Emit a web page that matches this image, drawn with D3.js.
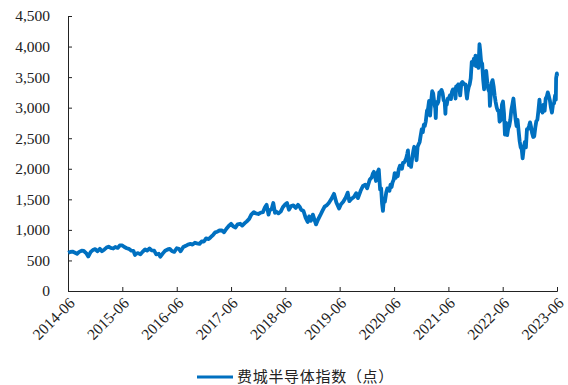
<!DOCTYPE html>
<html>
<head>
<meta charset="utf-8">
<script src="https://cdn.jsdelivr.net/npm/d3@7/dist/d3.min.js"></script>
<style>
  html, body { margin: 0; padding: 0; background: #fff; }
  svg { display: block; }
  .tick text { font-family: "Liberation Serif", "Times New Roman", serif; font-size: 15.5px; fill: #222; }
</style>
</head>
<body>
<svg id="chart" width="568" height="385"></svg>
<script>
// Philadelphia Semiconductor Index, closing level (points)
const dates = [
  "2014-06-02","2014-06-16","2014-07-01","2014-07-15","2014-08-01","2014-08-15","2014-09-01","2014-09-15","2014-10-01","2014-10-15","2014-11-01","2014-11-15","2014-12-01","2014-12-15",
  "2015-01-01","2015-01-15","2015-02-01","2015-02-15","2015-03-01","2015-03-15","2015-04-01","2015-04-15","2015-05-01","2015-05-15","2015-06-01","2015-06-15","2015-07-01","2015-07-15","2015-08-01","2015-08-15","2015-08-25","2015-09-01","2015-09-15","2015-10-01","2015-10-15","2015-11-01","2015-11-15","2015-12-01","2015-12-15",
  "2016-01-01","2016-01-15","2016-02-01","2016-02-11","2016-03-01","2016-03-15","2016-04-01","2016-04-15","2016-05-01","2016-05-15","2016-06-01","2016-06-15","2016-06-27","2016-07-15","2016-08-01","2016-08-15","2016-09-01","2016-09-15","2016-10-01","2016-10-15","2016-11-01","2016-11-15","2016-12-01","2016-12-15",
  "2017-01-01","2017-01-15","2017-02-01","2017-02-15","2017-03-01","2017-03-15","2017-04-01","2017-04-15","2017-05-01","2017-05-15","2017-06-01","2017-06-15","2017-07-01","2017-07-15","2017-08-01","2017-08-15","2017-09-01","2017-09-15","2017-10-01","2017-10-15","2017-11-01","2017-11-15","2017-12-01","2017-12-15",
  "2018-01-01","2018-01-15","2018-01-26","2018-02-08","2018-02-15","2018-03-01","2018-03-12","2018-03-23","2018-04-01","2018-04-15","2018-05-01","2018-05-15","2018-06-01","2018-06-12","2018-06-25","2018-07-10","2018-07-25","2018-08-10","2018-08-25","2018-09-05","2018-09-15","2018-10-01","2018-10-15","2018-10-29","2018-11-08","2018-11-20","2018-12-03","2018-12-24",
  "2019-01-07","2019-01-22","2019-02-05","2019-02-20","2019-03-05","2019-03-20","2019-04-05","2019-04-24","2019-05-10","2019-05-28","2019-06-10","2019-06-25","2019-07-10","2019-07-25","2019-08-05","2019-08-20","2019-09-05","2019-09-20","2019-10-02","2019-10-20","2019-11-05","2019-11-20","2019-12-03","2019-12-20",
  "2020-01-03","2020-01-10","2020-01-17","2020-01-24","2020-01-31","2020-02-07","2020-02-14","2020-02-19","2020-02-28","2020-03-06","2020-03-12","2020-03-18","2020-03-24","2020-03-31","2020-04-09","2020-04-17","2020-04-24","2020-05-01","2020-05-08","2020-05-15","2020-05-22","2020-05-29",
  "2020-06-05","2020-06-12","2020-06-19","2020-06-26","2020-07-02","2020-07-10","2020-07-17","2020-07-24","2020-07-31","2020-08-07","2020-08-14","2020-08-21","2020-08-28","2020-09-02","2020-09-08","2020-09-18","2020-09-23","2020-10-02","2020-10-09","2020-10-14","2020-10-23","2020-10-30","2020-11-06","2020-11-13","2020-11-20","2020-11-27","2020-12-04","2020-12-11","2020-12-18","2020-12-24","2020-12-31",
  "2021-01-08","2021-01-15","2021-01-22","2021-01-29","2021-02-05","2021-02-12","2021-02-19","2021-02-26","2021-03-05","2021-03-08","2021-03-12","2021-03-19","2021-03-26","2021-04-01","2021-04-09","2021-04-16","2021-04-23","2021-04-30","2021-05-07","2021-05-12","2021-05-14","2021-05-21","2021-05-28","2021-06-04","2021-06-11","2021-06-18","2021-06-25","2021-07-02","2021-07-09",
  "2021-07-16","2021-07-19","2021-07-23","2021-07-30","2021-08-06","2021-08-13","2021-08-19","2021-08-27","2021-09-03","2021-09-10","2021-09-17","2021-09-24","2021-09-30","2021-10-04","2021-10-08","2021-10-15","2021-10-22","2021-10-29","2021-11-05","2021-11-12","2021-11-19","2021-11-26","2021-11-30","2021-12-03","2021-12-10","2021-12-17","2021-12-20","2021-12-27","2021-12-31",
  "2022-01-07","2022-01-14","2022-01-21","2022-01-27","2022-02-04","2022-02-10","2022-02-18","2022-02-24","2022-03-04","2022-03-07","2022-03-11","2022-03-18","2022-03-25","2022-04-01","2022-04-08","2022-04-14","2022-04-22","2022-04-29","2022-05-06","2022-05-11","2022-05-20","2022-05-27","2022-06-03","2022-06-10","2022-06-16","2022-06-24",
  "2022-07-01","2022-07-08","2022-07-15","2022-07-22","2022-07-29","2022-08-05","2022-08-12","2022-08-19","2022-08-26","2022-09-02","2022-09-09","2022-09-16","2022-09-23","2022-09-30","2022-10-07","2022-10-13","2022-10-21","2022-10-28","2022-11-04","2022-11-11","2022-11-18","2022-11-25","2022-12-02","2022-12-09","2022-12-16","2022-12-23","2022-12-30",
  "2023-01-06","2023-01-13","2023-01-20","2023-01-27","2023-02-03","2023-02-10","2023-02-17","2023-02-24","2023-03-03","2023-03-10","2023-03-17","2023-03-24","2023-03-31","2023-04-06","2023-04-14","2023-04-21","2023-04-28","2023-05-05","2023-05-12","2023-05-19","2023-05-24","2023-05-26","2023-05-31","2023-06-02"
];
const values = [
  625,640,645,630,610,640,660,655,620,565,640,670,685,650,
  690,650,680,710,725,705,695,720,705,745,745,720,700,690,660,655,590,610,620,600,640,680,660,695,665,
  660,600,610,560,620,660,680,690,650,640,700,690,650,720,740,760,770,760,790,780,770,810,810,860,
  850,880,920,960,970,990,990,960,1020,1060,1100,1060,1040,1090,1100,1070,1110,1140,1180,1250,1290,1270,1260,1280,
  1290,1370,1410,1250,1320,1340,1440,1280,1300,1270,1300,1370,1420,1440,1330,1390,1400,1360,1410,1380,1330,1310,1200,1130,1220,1150,1250,1090,
  1170,1240,1310,1380,1400,1440,1500,1590,1450,1350,1420,1460,1520,1610,1470,1510,1540,1600,1520,1640,1720,1740,1680,1820,
  1860,1920,1950,1900,1800,1900,1960,1990,1660,1680,1430,1310,1500,1460,1610,1680,1650,1640,1740,1700,1780,1820,
  1930,1850,1930,1880,1990,2050,2050,2000,2100,2100,2130,2170,2240,2300,2060,2120,2030,2200,2300,2360,2300,2140,2360,2400,2440,2550,2650,2600,2720,2700,2777,
  2950,2980,3110,2870,3100,3270,3230,3080,2990,2830,3090,3060,3100,3250,3260,3290,3240,3120,3100,2900,3030,3050,3150,3150,3200,3140,3260,3300,3300,
  3240,3150,3350,3320,3380,3330,3200,3400,3420,3400,3380,3380,3220,3150,3240,3330,3380,3480,3750,3700,3800,3700,3850,3680,3840,3700,3650,4040,3950,
  3750,3720,3450,3300,3460,3600,3400,3300,3250,3030,3150,3400,3450,3350,3200,3100,3000,2950,2950,2770,2800,3050,3100,2900,2560,2750,
  2550,2660,2700,2800,2960,3050,3150,2980,2820,2700,2800,2620,2450,2350,2320,2170,2350,2440,2350,2650,2650,2700,2760,2680,2580,2520,2530,
  2670,2780,2800,2950,3130,2950,3000,2920,3050,2950,3150,3180,3250,3200,3120,3000,2920,3050,3070,3200,3130,3480,3560,3520
];
const tickDates = ["2014-06","2015-06","2016-06","2017-06","2018-06","2019-06","2020-06","2021-06","2022-06","2023-06"];
const yTicks = [0,500,1000,1500,2000,2500,3000,3500,4000,4500];
const seriesName = "费城半导体指数（点）";

const parseDay = d3.timeParse("%Y-%m-%d");
const parseMonth = d3.timeParse("%Y-%m");
const rows = dates.map((d, i) => ({ date: parseDay(d), value: values[i] }))
  .filter(d => d.value !== undefined);

const svg = d3.select("#chart");
const plotLeft = 68, plotRight = 557, plotTop = 16, plotBottom = 291;

const x = d3.scaleTime()
  .domain([parseMonth(tickDates[0]), parseMonth(tickDates[tickDates.length - 1])])
  .range([plotLeft, plotRight]);
const y = d3.scaleLinear().domain([0, 4500]).range([plotBottom, plotTop]);

// y axis: ticks point into the plot
const yAxis = svg.append("g")
  .attr("transform", `translate(${plotLeft},0)`)
  .call(d3.axisLeft(y).tickValues(yTicks).tickSize(-4).tickPadding(18).tickFormat(d3.format(",")));
yAxis.select(".domain").attr("stroke", "#222");
yAxis.selectAll(".tick line").attr("stroke", "#222");

// x axis: yearly ticks, rotated labels
const xAxis = svg.append("g")
  .attr("transform", `translate(0,${plotBottom})`)
  .call(d3.axisBottom(x).tickValues(tickDates.map(parseMonth)).tickSize(-4).tickFormat(d3.timeFormat("%Y-%m")));
xAxis.select(".domain").attr("stroke", "#222");
xAxis.selectAll(".tick line").attr("stroke", "#222");
xAxis.selectAll(".tick text")
  .attr("text-anchor", "end")
  .attr("dx", 0)
  .attr("dy", 0)
  .attr("transform", "translate(5,11) rotate(-45)");

// index line
const line = d3.line().x(d => x(d.date)).y(d => y(d.value));
svg.append("path")
  .datum(rows)
  .attr("fill", "none")
  .attr("stroke", "#0070C0")
  .attr("stroke-width", 3.8)
  .attr("stroke-linejoin", "round")
  .attr("d", line);

// legend
const legend = svg.append("g").attr("transform", "translate(197,377)");
legend.append("line").attr("x1", 0).attr("x2", 36).attr("y1", 0).attr("y2", 0)
  .attr("stroke", "#0070C0").attr("stroke-width", 3);
legend.append("text").attr("x", 40).attr("y", 4.5)
  .attr("font-family", "'Noto Sans CJK SC', sans-serif")
  .attr("font-size", 15).attr("letter-spacing", 0.7).attr("fill", "#222")
  .text(seriesName);
</script>
</body>
</html>
